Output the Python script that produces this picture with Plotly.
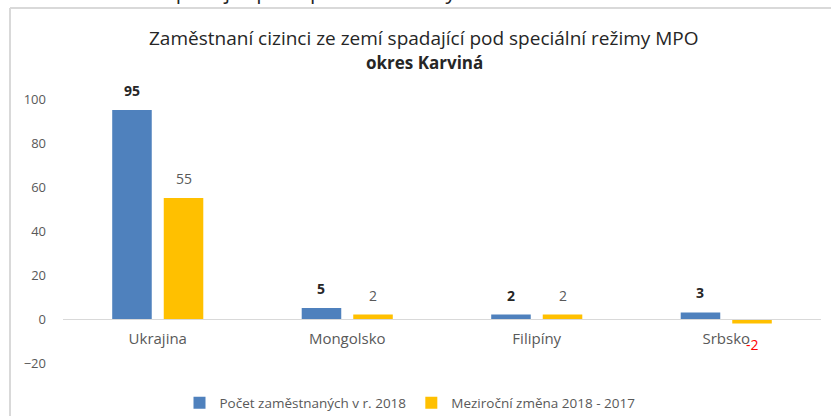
import plotly.graph_objects as go

categories = ["Ukrajina", "Mongolsko", "Filipíny", "Srbsko"]
pocet_2018 = [95, 5, 2, 3]
zmena_2018_2017 = [55, 2, 2, -2]
y_ticks = [-20, 0, 20, 40, 60, 80, 100]

series_names = ["Počet zaměstnaných v r. 2018", "Meziroční změna 2018 - 2017"]
title_line1 = "Zaměstnaní cizinci ze zemí spadající pod speciální režimy MPO"
title_line2 = "okres Karviná"
caption = "Graf 3.23 - Země spadající pod speciální režimy MPO"

FONT = "Open Sans"
BLUE = "#4f81bd"
ORANGE = "#ffc000"

L, R, T, B = 63, 10, 99, 53
W, H = 831, 416
PW, PH = W - L - R, H - T - B


def px_x(x):
    return (x - L) / PW


def px_y(y):
    return (H - B - y) / PH


fig = go.Figure()
fig.add_trace(go.Bar(x=categories, y=pocet_2018, name=series_names[0],
                     marker=dict(color=BLUE, line=dict(width=0))))
fig.add_trace(go.Bar(x=categories, y=zmena_2018_2017, name=series_names[1],
                     marker=dict(color=ORANGE, line=dict(width=0))))

annotations = []
off = 26  # px offset of each bar from category centre
for c, v in zip(categories, pocet_2018):
    annotations.append(dict(x=c, y=v, xref="x", yref="y", text=f"<b>{v}</b>",
                            showarrow=False, xshift=-off, yshift=8, yanchor="bottom",
                            font=dict(family=FONT, size=14, color="#262626")))
for c, v in zip(categories, zmena_2018_2017):
    if v >= 0:
        annotations.append(dict(x=c, y=v, xref="x", yref="y", text=f"{v}",
                                showarrow=False, xshift=off, yshift=8, yanchor="bottom",
                                font=dict(family=FONT, size=14, color="#595959")))
    else:
        annotations.append(dict(x=c, y=v, xref="x", yref="y", text=f"{v}",
                                showarrow=False, xshift=off, yshift=-10, yanchor="top",
                                font=dict(family=FONT, size=14, color="#ff0000")))

annotations.append(dict(x=px_x(424), y=px_y(40), xref="paper", yref="paper",
                        text=title_line1, showarrow=False, xanchor="center", yanchor="middle",
                        yshift=2,
                        font=dict(family=FONT, size=19, color="#262626")))
annotations.append(dict(x=px_x(424), y=px_y(63), xref="paper", yref="paper",
                        text=f"<b>{title_line2}</b>", showarrow=False, xanchor="center",
                        yanchor="middle", font=dict(family=FONT, size=17, color="#262626")))
annotations.append(dict(x=px_x(-4), y=px_y(7), xref="paper", yref="paper",
                        text=caption, showarrow=False, xanchor="left", yanchor="bottom",
                        font=dict(family=FONT, size=21, color="#262626")))

shapes = [
    dict(type="line", xref="paper", yref="paper", x0=px_x(10), x1=px_x(10),
         y0=px_y(8), y1=px_y(430), line=dict(color="#d9d9d9", width=2)),
    dict(type="line", xref="paper", yref="paper", x0=px_x(10), x1=px_x(850),
         y0=px_y(8), y1=px_y(8), line=dict(color="#d9d9d9", width=2)),
]

fig.update_layout(
    width=W, height=H, autosize=False,
    margin=dict(l=L, r=R, t=T, b=B, autoexpand=False),
    paper_bgcolor="white", plot_bgcolor="white",
    barmode="group", bargap=0.456, bargroupgap=0.233,
    font=dict(family=FONT, size=13, color="#595959"),
    showlegend=True,
    legend=dict(orientation="h", xref="container", yref="container",
                x=410 / W, xanchor="center",
                y=1 - 403 / H, yanchor="middle",
                font=dict(family=FONT, size=13.5, color="#595959"),
                itemwidth=30, traceorder="normal"),
    annotations=annotations, shapes=shapes,
    xaxis=dict(anchor="free", position=px_y(319), showline=True, automargin=False,
               linecolor="#d9d9d9", linewidth=1, ticks="", showgrid=False,
               tickfont=dict(family=FONT, size=15, color="#595959"),
               ticklabelstandoff=6),
    yaxis=dict(range=[-20, 100], tickvals=y_ticks, showgrid=False, zeroline=False,
               showline=False, ticks="", ticklabelstandoff=16, automargin=False,
               tickfont=dict(family=FONT, size=13, color="#595959")),
)

fig.write_html("out.html", config={"displayModeBar": False},
               post_script="document.body.style.margin='0';document.body.style.overflow='hidden';")
